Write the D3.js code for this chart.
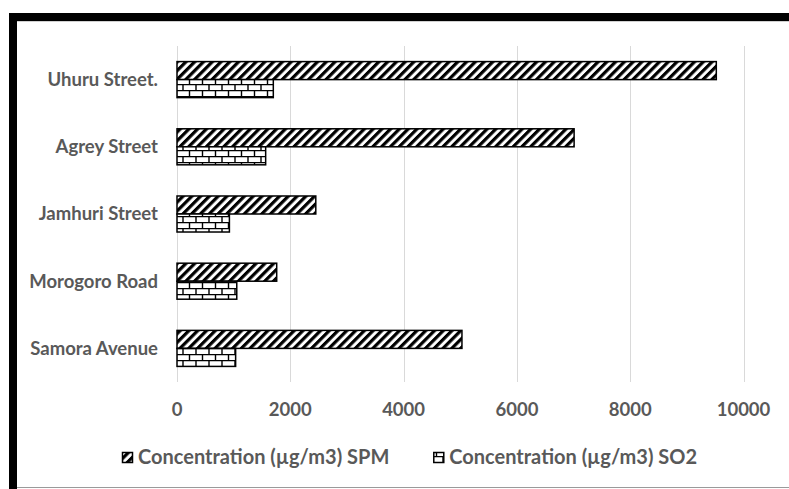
<!DOCTYPE html>
<html>
<head>
<meta charset="utf-8">
<script src="https://cdn.jsdelivr.net/npm/d3@7"></script>
<style>
  body { margin: 0; background: #fff; }
  text { font-family: Lato, "Open Sans", sans-serif; font-weight: bold; fill: #595959; }
</style>
</head>
<body>
<div id="main-container"></div>
<script>
var width = 789,
    height = 489

// data
var categories = ["Uhuru Street.", "Agrey Street", "Jamhuri Street", "Morogoro Road", "Samora Avenue"]
var spmValues = [9520, 7010, 2450, 1760, 5030]
var so2Values = [1700, 1565, 925, 1055, 1035]
var tickValues = [0, 2000, 4000, 6000, 8000, 10000]
var seriesNames = ["Concentration (µg/m3) SPM", "Concentration (µg/m3) SO2"]

var svg = d3.select("#main-container").append("svg")
  .attr("id", "chart")
  .attr("width", width)
  .attr("height", height)

var defs = svg.append("defs")

// wide upward diagonal
var diag = defs.append("pattern")
  .attr("id", "diag")
  .attr("patternUnits", "userSpaceOnUse")
  .attr("width", 6.2)
  .attr("height", 6.2)
  .attr("patternTransform", "rotate(45)")
diag.append("rect").attr("width", 6.2).attr("height", 6.2).attr("fill", "#fff")
diag.append("rect").attr("width", 3.2).attr("height", 6.2).attr("fill", "#000")

// horizontal brick
var brick = defs.append("pattern")
  .attr("id", "brick")
  .attr("patternUnits", "userSpaceOnUse")
  .attr("width", 13)
  .attr("height", 12)
brick.append("rect").attr("width", 13).attr("height", 12).attr("fill", "#fff")
brick.append("path")
  .attr("d", "M0,0.6H13M0,6.6H13M1,0V6M7.5,6V12")
  .attr("stroke", "#000")
  .attr("stroke-width", 1.4)
  .attr("fill", "none")

var patterns = ["url(#diag)", "url(#brick)"]

// frame
svg.append("rect").attr("x", 9).attr("y", 13).attr("width", width - 9).attr("height", 8).attr("fill", "#000")
svg.append("rect").attr("x", 9).attr("y", 13).attr("width", 8).attr("height", height - 13).attr("fill", "#000")
svg.append("line").attr("x1", 17).attr("x2", width).attr("y1", 21.5).attr("y2", 21.5).attr("stroke", "#d0d0d0")
svg.append("line").attr("x1", 17).attr("x2", width).attr("y1", 487.5).attr("y2", 487.5).attr("stroke", "#9a9a9a")

var x = d3.scaleLinear()
  .domain([0, 10000])
  .range([177, 743.5])

var y = d3.scaleBand()
  .domain(categories)
  .range([46, 382])
  .paddingInner(0.464)
  .paddingOuter(0.232)

var ySub = d3.scaleBand()
  .domain([0, 1])
  .range([0, y.bandwidth()])

// gridlines
svg.append("g")
  .selectAll("line")
  .data(tickValues)
  .enter()
  .append("line")
    .attr("x1", function(d){ return Math.round(x(d)) + 0.5 })
    .attr("x2", function(d){ return Math.round(x(d)) + 0.5 })
    .attr("y1", 46)
    .attr("y2", 382)
    .attr("stroke", "#d9d9d9")

// tick labels
svg.append("g")
  .selectAll("text")
  .data(tickValues)
  .enter()
  .append("text")
    .attr("x", function(d){ return x(d) })
    .attr("y", 416)
    .attr("text-anchor", "middle")
    .style("font-size", "18.5px")
    .text(function(d){ return d })

// category labels
svg.append("g")
  .selectAll("text")
  .data(categories)
  .enter()
  .append("text")
    .attr("x", 158)
    .attr("y", function(d){ return y(d) + y.bandwidth() / 2 })
    .attr("dy", "0.35em")
    .attr("text-anchor", "end")
    .style("font-size", "18.5px")
    .text(function(d){ return d })

// bars
var series = [spmValues, so2Values]
series.forEach(function(vals, s){
  svg.append("g")
    .selectAll("rect")
    .data(vals)
    .enter()
    .append("rect")
      .attr("x", x(0))
      .attr("y", function(d, i){ return y(categories[i]) + ySub(s) })
      .attr("width", function(d){ return x(d) - x(0) })
      .attr("height", ySub.bandwidth())
      .attr("fill", patterns[s])
      .attr("stroke", "#000")
      .attr("stroke-width", 1.5)
})

// legend
var legend = svg.append("g").attr("class", "legend")
var lx = 122
seriesNames.forEach(function(name, s){
  legend.append("rect")
    .attr("x", lx + 0.5)
    .attr("y", 452.5)
    .attr("width", 10)
    .attr("height", 10)
    .attr("fill", patterns[s])
    .attr("stroke", "#000")
    .attr("stroke-width", 1.5)
  var t = legend.append("text")
    .attr("x", lx + 16)
    .attr("y", 464)
    .style("font-size", "20px")
    .text(name)
  lx = lx + 16 + t.node().getComputedTextLength() + 44
})
</script>
</body>
</html>
